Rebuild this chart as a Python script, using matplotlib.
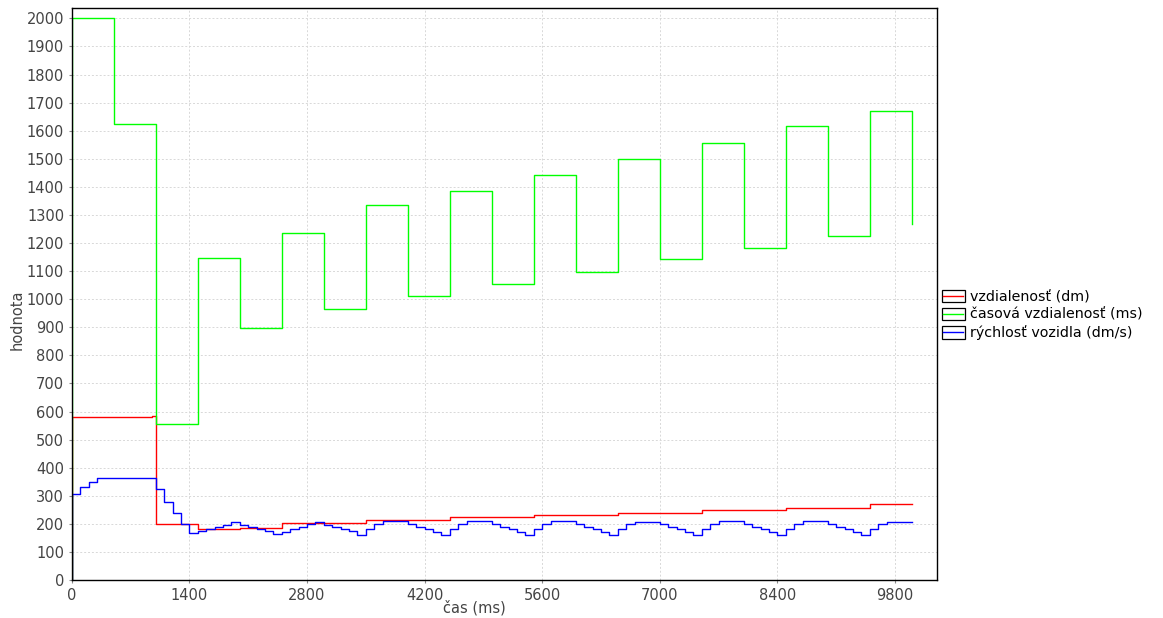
import matplotlib
matplotlib.use("Agg")
import matplotlib.pyplot as plt
from matplotlib.legend_handler import HandlerBase
from matplotlib.patches import Rectangle
from matplotlib.lines import Line2D

# vzdialenosť (dm)
red_t = [0, 0, 400, 650, 850, 950, 1000, 1500, 2000, 2500, 3500, 4500, 5500, 6500, 7500, 8500, 9500, 10000]
red_v = [0, 579, 580, 581, 582, 583, 200, 181, 186, 202, 213, 225, 233, 239, 249, 257, 269, 269]

# časová vzdialenosť (ms)
green_t = [0, 0, 500, 1000, 1500, 2000, 2500, 3000, 3500, 4000, 4500, 5000,
           5500, 6000, 6500, 7000, 7500, 8000, 8500, 9000, 9500, 10000]
green_v = [0, 2000, 1623, 555, 1145, 897, 1237, 966, 1335, 1010, 1386, 1054,
           1444, 1097, 1500, 1142, 1557, 1181, 1615, 1224, 1671, 1269]

# rýchlosť vozidla (dm/s)
blue_t = [0, 0, 100, 200, 300, 1000, 1100, 1200, 1300,
          1400, 1500, 1600, 1700, 1800, 1900, 2000, 2100, 2200, 2300,
          2400, 2500, 2600, 2700, 2800, 2900, 3000, 3100, 3200, 3300,
          3400, 3500, 3600, 3700, 4000, 4100, 4200, 4300,
          4400, 4500, 4600, 4700, 5000, 5100, 5200, 5300,
          5400, 5500, 5600, 5700, 6000, 6100, 6200, 6300,
          6400, 6500, 6600, 6700, 7000, 7100, 7200, 7300,
          7400, 7500, 7600, 7700, 8000, 8100, 8200, 8300,
          8400, 8500, 8600, 8700, 9000, 9100, 9200, 9300,
          9400, 9500, 9600, 9700, 10000]
blue_v = [0, 307, 331, 349, 362, 324, 279, 240, 200,
          167, 174, 182, 189, 197, 206, 197, 189, 182, 174,
          163, 172, 180, 188, 199, 206, 197, 189, 182, 174,
          161, 182, 200, 210, 200, 190, 180, 170,
          161, 180, 200, 210, 200, 190, 180, 170,
          161, 182, 200, 210, 200, 190, 180, 170,
          161, 182, 200, 208, 200, 190, 180, 170,
          161, 180, 200, 210, 200, 190, 180, 170,
          161, 180, 200, 210, 200, 190, 180, 170,
          161, 180, 200, 208, 208]

labels = ["vzdialenosť (dm)", "časová vzdialenosť (ms)", "rýchlosť vozidla (dm/s)"]
x_ticks = [0, 1400, 2800, 4200, 5600, 7000, 8400, 9800]
y_ticks = list(range(0, 2001, 100))


class BoxLine(HandlerBase):
    # white box with black edge and coloured line through the middle
    def create_artists(self, legend, orig_handle, xdescent, ydescent,
                       width, height, fontsize, trans):
        r = Rectangle((-xdescent, -ydescent), width, height, fc="white",
                      ec="black", lw=0.9, transform=trans)
        y = -ydescent + height / 2
        l = Line2D([-xdescent + 1, -xdescent + width - 1], [y, y],
                   color=orig_handle.get_color(), lw=1.0, transform=trans)
        return [r, l]


fig = plt.figure(figsize=(11.63, 6.18), dpi=100)
ax = fig.add_axes([0.0617, 0.0615, 0.7436, 0.9251])

h1, = ax.plot(red_t, red_v, drawstyle="steps-post", color="#ff0000", lw=1.0)
h2, = ax.plot(green_t, green_v, drawstyle="steps-post", color="#00ff00", lw=1.0)
h3, = ax.plot(blue_t, blue_v, drawstyle="steps-post", color="#0000ff", lw=1.0)

ax.set_xlim(0, 10295)
ax.set_ylim(0, 2036)
ax.set_xticks(x_ticks)
ax.set_yticks(y_ticks)
ax.tick_params(labelsize=10.5, labelcolor="#444444", length=2, color="#888888")
ax.grid(True, color="#d8d8d8", linestyle=(0, (2, 2)), lw=0.7)
for s in ax.spines.values():
    s.set_color("black")
    s.set_linewidth(1.0)

ax.set_xlabel("čas (ms)", fontsize=10.5, color="#444444")
ax.set_ylabel("hodnota", fontsize=10.5, color="#444444")
ax.xaxis.set_label_coords(0.465, -0.035)
ax.yaxis.set_label_coords(-0.055, 0.455)

fig.legend([h1, h2, h3], labels, loc="upper left",
           bbox_to_anchor=(0.8097, 0.5305), frameon=False,
           handler_map={Line2D: BoxLine()}, fontsize=10.3,
           handlelength=1.6, handleheight=0.95, handletextpad=0.35,
           labelspacing=0.25, borderpad=0, borderaxespad=0)

fig.savefig("out.png", dpi=100)
